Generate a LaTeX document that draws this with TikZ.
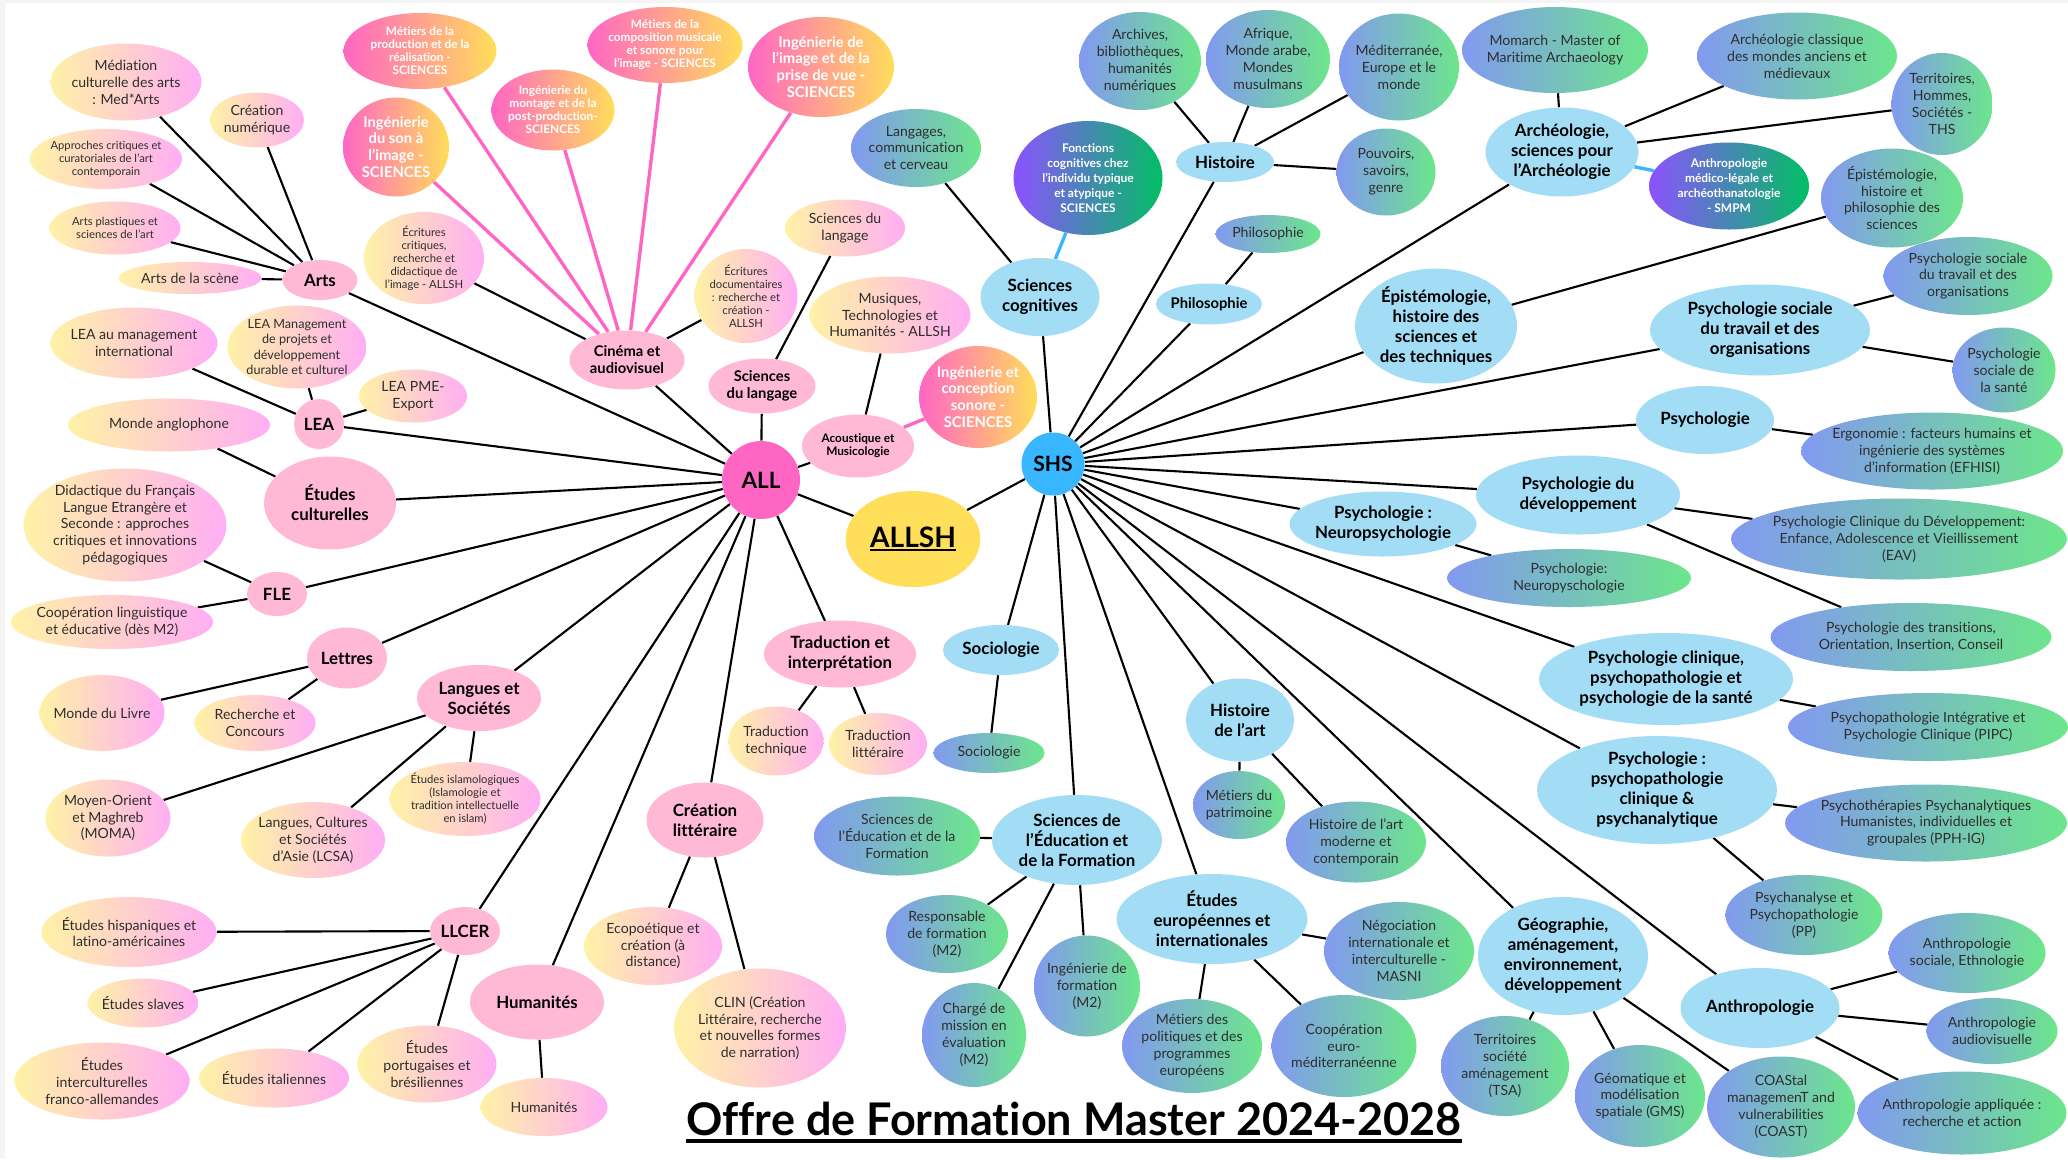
\documentclass[tikz,border=0pt]{standalone}
\usepackage{fontspec}
\setmainfont{Lato}[Ligatures=NoCommon]
\usepackage{tikz}
\usetikzlibrary{shapes.geometric}
\pgfdeclarelayer{bg}
\pgfsetlayers{bg,main}

\definecolor{ylw}{HTML}{FFF2A6}
\definecolor{pk}{HTML}{FFAEF4}
\definecolor{hotpk}{HTML}{FF66C4}
\definecolor{gold}{HTML}{FFDE59}
\definecolor{bluA}{HTML}{8299F0}
\definecolor{grnA}{HTML}{6CE68B}
\definecolor{purp}{HTML}{8C52FF}
\definecolor{grnB}{HTML}{00BF63}
\definecolor{catpk}{HTML}{FFB9D4}
\definecolor{catbl}{HTML}{A3DDF5}
\definecolor{shsbl}{HTML}{38B6FF}
\definecolor{txt}{HTML}{2E2E2E}

\newcommand{\thickul}[3]{\setbox0=\hbox{#3}\rlap{\copy0}\rule[#1]{\wd0}{#2}}

\tikzset{
  sz/.style n args={2}{minimum width=#1*0.025cm, minimum height=#2*0.025cm},
  leaf/.style={ellipse, left color=ylw, right color=pk, text=txt, align=center,
    inner xsep=-8pt, inner ysep=-4pt, font=\fontsize{10}{12}\selectfont},
  leafs/.style={leaf, left color=bluA, right color=grnA},
  sci/.style={leaf, left color=hotpk, right color=gold, text=white,
    font=\bfseries\fontsize{10.5}{12}\selectfont},
  violeaf/.style={leaf, left color=purp, right color=grnB, text=white,
    font=\bfseries\fontsize{8.5}{10.7}\selectfont},
  catA/.style={ellipse, fill=catpk, text=black, align=center,
    inner xsep=-8pt, inner ysep=-4pt, font=\bfseries\fontsize{12}{14.2}\selectfont},
  catS/.style={catA, fill=catbl},
  fA/.style={font=\fontsize{8}{9.2}\selectfont},
  fB/.style={font=\fontsize{9}{10.7}\selectfont},
  bA/.style={font=\bfseries\fontsize{8.4}{9.2}\selectfont},
  bC/.style={font=\bfseries\fontsize{10.5}{12}\selectfont},
  ln/.style={line width=1.5pt, black},
  lnp/.style={line width=2.4pt, hotpk},
  lnb/.style={line width=2.4pt, shsbl},
}

\begin{document}
\begin{tikzpicture}[x=0.025cm, y=-0.025cm]
\useasboundingbox (0,0) rectangle (2068,1159);
\begin{pgfonlayer}{bg}
\fill[gray!8] (0,0) rectangle (2068,1159);
\fill[white] (5,3) rectangle (2068,1159);
\end{pgfonlayer}

%% centres
\node[circle, fill=hotpk, sz={78}{78}, font=\bfseries\fontsize{16}{18}\selectfont] (all) at (761,480) {ALL};
\node[ellipse, fill=gold, sz={117}{96}, font=\bfseries\fontsize{20}{22}\selectfont] (allsh) at (913,539) {\thickul{-2.8pt}{1.6pt}{ALLSH}};
\node[circle, fill=shsbl, sz={63}{63}, inner sep=0pt, font=\bfseries\fontsize{15}{17}\selectfont] (shs) at (1053,464) {SHS};

%% ALL : mentions
\node[catA, sz={75}{40}] (arts) at (320,280) {Arts};
\node[catA, sz={50}{50}] (lea) at (319,424) {LEA};
\node[catA, sz={132}{93}] (etcult) at (330,503) {Études\\culturelles};
\node[catA, sz={60}{44}] (fle) at (277,594) {FLE};
\node[catA, sz={80}{61}] (lettres) at (347,658) {Lettres};
\node[catA, sz={124}{66}] (langsoc) at (479,698) {Langues et\\Sociétés};
\node[catA, sz={70}{48}] (llcer) at (465,931) {LLCER};
\node[catA, sz={134}{75}] (human) at (537,1002) {Humanités};
\node[catA, sz={117}{75}] (crealit) at (705,820) {Création\\littéraire};
\node[catA, sz={152}{67}] (trad) at (840,654) {Traduction et\\interprétation};
\node[catA, bC, sz={107}{55}] (scilang) at (762,386) {Sciences\\du langage};
\node[catA, bC, sz={115}{59}] (cinema) at (627,360) {Cinéma et\\audiovisuel};
\node[catA, bA, sz={112}{63}] (acou) at (858,446) {Acoustique et\\Musicologie};

%% ALL : parcours
\node[leaf, sz={151}{77}] (mediation) at (126,82) {Médiation\\culturelle des arts\\: Med*Arts};
\node[leaf, sz={94}{55}] (creanum) at (257,120) {Création\\numérique};
\node[leaf, fA, sz={152}{60}] (approches) at (106,159) {Approches critiques et\\curatoriales de l'art\\contemporain};
\node[leaf, fA, sz={131}{53}] (plastiques) at (115,228) {Arts plastiques et\\sciences de l'art};
\node[leaf, sz={143}{32}] (scene) at (190,278) {Arts de la scène};
\node[leaf, fA, sz={120}{92}] (ecrcrit) at (424,258) {Écritures\\critiques,\\recherche et\\didactique de\\l'image - ALLSH};
\node[leaf, sz={167}{71}] (leaint) at (134,343) {LEA au management\\international};
\node[leaf, fB, sz={139}{83}] (leaproj) at (297,347) {LEA Management\\de projets et\\développement\\durable et culturel};
\node[leaf, sz={108}{53}] (leapme) at (413,396) {LEA PME-\\Export};
\node[leaf, sz={202}{53}] (anglo) at (169,425) {Monde anglophone};
\node[leaf, sz={203}{113}] (didac) at (125,525) {Didactique du Français\\Langue Etrangère et\\Seconde : approches\\critiques et innovations\\pédagogiques};
\node[leaf, sz={202}{54}] (cooplin) at (112,622) {Coopération linguistique\\et éducative (dès M2)};
\node[leaf, sz={125}{76}] (livre) at (102,713) {Monde du Livre};
\node[leaf, sz={121}{56}] (concours) at (255,723) {Recherche et\\Concours};
\node[leaf, fA, sz={151}{74}] (islam) at (465,799) {Études islamologiques\\(Islamologie et\\tradition intellectuelle\\en islam)};
\node[leaf, sz={125}{77}] (moma) at (108,818) {Moyen-Orient\\et Maghreb\\(MOMA)};
\node[leaf, sz={144}{76}] (lcsa) at (313,840) {Langues, Cultures\\et Sociétés\\d'Asie (LCSA)};
\node[leaf, sz={175}{70}] (hisp) at (129,932) {Études hispaniques et\\latino-américaines};
\node[leaf, sz={111}{49}] (slaves) at (143,1003) {Études slaves};
\node[leaf, sz={175}{77}] (francoall) at (102,1081) {Études\\interculturelles\\franco-allemandes};
\node[leaf, sz={150}{59}] (ital) at (274,1078) {Études italiennes};
\node[leaf, sz={139}{77}] (portu) at (427,1064) {Études\\portugaises et\\brésiliennes};
\node[leaf, sz={127}{58}] (humleaf) at (544,1107) {Humanités};
\node[leaf, sz={138}{78}] (ecopo) at (653,946) {Ecopoétique et\\création (à\\distance)};
\node[leaf, sz={172}{119}] (clin) at (760,1028) {CLIN (Création\\Littéraire, recherche\\et nouvelles formes\\de narration)};
\node[leaf, sz={95}{69}] (tradtech) at (776,741) {Traduction\\technique};
\node[leaf, sz={98}{62}] (tradlit) at (878,744) {Traduction\\littéraire};
\node[leaf, sz={120}{57}] (langleaf) at (845,228) {Sciences du\\langage};
\node[leaf, fA, sz={103}{94}] (ecrdoc) at (746,296) {Écritures\\documentaires\\: recherche et\\création -\\ALLSH};
\node[leaf, sz={161}{77}] (musiq) at (890,315) {Musiques,\\Technologies et\\Humanités - ALLSH};

%% parcours SCIENCES
\node[sci, bA, sz={153}{76}] (metprod) at (420,51) {Métiers de la\\production et de la\\réalisation -\\SCIENCES};
\node[sci, sz={106}{99}] (ingson) at (396,147) {Ingénierie\\du son à\\l’image -\\SCIENCES};
\node[sci, bA, sz={123}{81}] (ingmont) at (553,110) {Ingénierie du\\montage et de la\\post-production-\\SCIENCES};
\node[sci, bA, sz={155}{76}] (metcomp) at (665,45) {Métiers de la\\composition musicale\\et sonore pour\\l’image - SCIENCES};
\node[sci, sz={146}{100}] (ingimg) at (821,67) {Ingénierie de\\l’image et de la\\prise de vue -\\SCIENCES};
\node[sci, sz={118}{102}] (ingsono) at (978,397) {Ingénierie et\\conception\\sonore -\\SCIENCES};

%% SHS : mentions
\node[catS, sz={119}{78}] (scicog) at (1040,297) {Sciences\\cognitives};
\node[catS, sz={98}{40}] (hist) at (1225,162) {Histoire};
\node[catS, bC, sz={106}{41}] (philo) at (1209,304) {Philosophie};
\node[catS, sz={153}{89}] (archeo) at (1562,152) {Archéologie,\\sciences pour\\l’Archéologie};
\node[catS, sz={162}{115}] (epist) at (1436,326) {Épistémologie,\\histoire des\\sciences et\\des techniques};
\node[catS, sz={220}{91}] (psysoc) at (1760,330) {Psychologie sociale\\du travail et des\\organisations};
\node[catS, sz={138}{68}] (psy) at (1705,420) {Psychologie};
\node[catS, sz={204}{79}] (psydev) at (1578,495) {Psychologie du\\développement};
\node[catS, sz={187}{65}] (neuro) at (1383,524) {Psychologie :\\Neuropsychologie};
\node[catS, sz={254}{92}] (psyclin) at (1666,679) {Psychologie clinique,\\psychopathologie et\\psychologie de la santé};
\node[catS, sz={240}{108}] (psypath) at (1657,790) {Psychologie :\\psychopathologie\\clinique \&\\psychanalytique};
\node[catS, sz={159}{80}] (anthro) at (1760,1008) {Anthropologie};
\node[catS, sz={170}{118}] (geo) at (1563,956) {Géographie,\\aménagement,\\environnement,\\développement};
\node[catS, sz={191}{90}] (europ) at (1212,919) {Études\\européennes et\\internationales};
\node[catS, sz={108}{83}] (histart) at (1240,720) {Histoire\\de l'art};
\node[catS, sz={170}{90}] (sciedu) at (1077,840) {Sciences de\\l’Éducation et\\de la Formation};
\node[catS, sz={116}{50}] (socio) at (1001,650) {Sociologie};

%% SHS : parcours
\node[leafs, sz={130}{78}] (langcer) at (916,148) {Langages,\\communication\\et cerveau};
\node[violeaf, sz={149}{114}] (fonct) at (1088,178) {Fonctions\\cognitives chez\\l’individu typique\\et atypique -\\SCIENCES};
\node[leafs, sz={122}{98}] (archiv) at (1140,61) {Archives,\\bibliothèques,\\humanités\\numériques};
\node[leafs, sz={124}{98}] (afriq) at (1268,59) {Afrique,\\Monde arabe,\\Mondes\\musulmans};
\node[leafs, sz={120}{107}] (medit) at (1399,67) {Méditerranée,\\Europe et le\\monde};
\node[leafs, sz={99}{87}] (pouv) at (1386,172) {Pouvoirs,\\savoirs,\\genre};
\node[leafs, sz={105}{38}] (philoleaf) at (1268,234) {Philosophie};
\node[leafs, sz={186}{86}] (momarch) at (1555,50) {Momarch - Master of\\Maritime Archaeology};
\node[leafs, sz={200}{87}] (archcl) at (1797,56) {Archéologie classique\\des mondes anciens et\\médievaux};
\node[leafs, sz={101}{102}] (ths) at (1942,104) {Territoires,\\Hommes,\\Sociétés -\\THS};
\node[violeaf, sz={160}{87}] (smpm) at (1729,186) {Anthropologie\\médico-légale et\\archéothanatologie\\- SMPM};
\node[leafs, sz={142}{99}] (epistleaf) at (1892,198) {Épistémologie,\\histoire et\\philosophie des\\sciences};
\node[leafs, sz={169}{78}] (psysocleaf) at (1968,276) {Psychologie sociale\\du travail et des\\organisations};
\node[leafs, sz={103}{85}] (sante) at (2004,370) {Psychologie\\sociale de\\la santé};
\node[leafs, sz={262}{77}] (ergo) at (1932,451) {Ergonomie : facteurs humains et\\ingénierie des systèmes\\d'information (EFHISI)};
\node[leafs, sz={336}{81}] (eav) at (1899,539) {Psychologie Clinique du Développement:\\Enfance, Adolescence et Vieillissement\\(EAV)};
\node[leafs, sz={244}{58}] (neuroleaf) at (1569,578) {Psychologie:\\Neuropyschologie};
\node[leafs, sz={281}{68}] (transit) at (1911,637) {Psychologie des transitions,\\Orientation, Insertion, Conseil};
\node[leafs, sz={280}{68}] (pipc) at (1928,727) {Psychopathologie Intégrative et\\Psychologie Clinique (PIPC)};
\node[leafs, sz={282}{77}] (pphig) at (1926,823) {Psychothérapies Psychanalytiques\\Humanistes, individuelles et\\groupales (PPH-IG)};
\node[leafs, sz={157}{80}] (pp) at (1804,915) {Psychanalyse et\\Psychopathologie\\(PP)};
\node[leafs, sz={157}{80}] (ethno) at (1967,953) {Anthropologie\\sociale, Ethnologie};
\node[leafs, sz={131}{66}] (audiovis) at (1992,1031) {Anthropologie\\audiovisuelle};
\node[leafs, sz={209}{83}] (appli) at (1962,1113) {Anthropologie appliquée :\\recherche et action};
\node[leafs, sz={130}{102}] (gms) at (1640,1096) {Géomatique et\\modélisation\\spatiale (GMS)};
\node[leafs, sz={148}{101}] (coast) at (1781,1107) {COAStal\\managemenT and\\vulnerabilities\\(COAST)};
\node[leafs, sz={128}{100}] (tsa) at (1505,1066) {Territoires\\société\\aménagement\\(TSA)};
\node[leafs, sz={150}{98}] (masni) at (1399,951) {Négociation\\internationale et\\interculturelle -\\MASNI};
\node[leafs, sz={140}{94}] (metpol) at (1192,1046) {Métiers des\\politiques et des\\programmes\\européens};
\node[leafs, sz={145}{102}] (coopeuro) at (1344,1046) {Coopération\\euro-\\méditerranéenne};
\node[leafs, sz={92}{68}] (patri) at (1239,805) {Métiers du\\patrimoine};
\node[leafs, sz={140}{81}] (histmod) at (1356,842) {Histoire de l'art\\moderne et\\contemporain};
\node[leafs, sz={166}{79}] (sciedul) at (897,836) {Sciences de\\l'Éducation et de la\\Formation};
\node[leafs, sz={122}{78}] (resp) at (947,934) {Responsable\\de formation\\(M2)};
\node[leafs, sz={104}{104}] (charge) at (974,1035) {Chargé de\\mission en\\évaluation\\(M2)};
\node[leafs, sz={106}{101}] (ingform) at (1087,986) {Ingénierie de\\formation\\(M2)};
\node[leafs, sz={111}{40}] (socioleaf) at (989,753) {Sociologie};

%% titre
\node[anchor=base, font=\bfseries\fontsize{32}{36}\selectfont] (titre) at (1074,1135) {\thickul{-6pt}{3pt}{Offre de Formation Master 2024-2028}};

%% liens
\begin{pgfonlayer}{bg}
\draw[ln] (all) -- (arts) (all) -- (lea) (all) -- (etcult) (all) -- (fle) (all) -- (lettres)
  (all) -- (langsoc) (all) -- (llcer) (all) -- (human) (all) -- (crealit) (all) -- (trad)
  (all) -- (scilang) (all) -- (cinema) (all) -- (acou) (all) -- (allsh) (allsh) -- (shs);
\draw[ln] (arts) -- (mediation) (arts) -- (creanum) (arts) -- (approches) (arts) -- (plastiques) (arts) -- (scene);
\draw[ln] (cinema) -- (ecrcrit) (cinema) -- (ecrdoc);
\draw[lnp] (cinema) -- (metprod) (cinema) -- (ingson) (cinema) -- (ingmont) (cinema) -- (metcomp) (cinema) -- (ingimg);
\draw[ln] (scilang) -- (langleaf) (acou) -- (musiq);
\draw[lnp] (acou) -- (ingsono);
\draw[ln] (lea) -- (leaint) (lea) -- (leaproj) (lea) -- (leapme) (etcult) -- (anglo);
\draw[ln] (fle) -- (didac) (fle) -- (cooplin) (lettres) -- (livre) (lettres) -- (concours);
\draw[ln] (langsoc) -- (moma) (langsoc) -- (lcsa) (langsoc) -- (islam);
\draw[ln] (llcer) -- (hisp) (llcer) -- (slaves) (llcer) -- (francoall) (llcer) -- (ital) (llcer) -- (portu);
\draw[ln] (human) -- (humleaf) (crealit) -- (ecopo) (crealit) -- (clin) (trad) -- (tradtech) (trad) -- (tradlit);
%% SHS
\draw[ln] (shs) -- (scicog) (shs) -- (hist) (shs) -- (philo) (shs) -- (archeo) (shs) -- (epist)
  (shs) -- (psysoc) (shs) -- (psy) (shs) -- (psydev) (shs) -- (neuro) (shs) -- (psyclin)
  (shs) -- (psypath) (shs) -- (anthro) (shs) -- (geo) (shs) -- (europ) (shs) -- (histart)
  (shs) -- (sciedu) (shs) -- (socio);
\draw[ln] (scicog) -- (langcer);
\draw[lnb] (scicog) -- (fonct);
\draw[ln] (hist) -- (archiv) (hist) -- (afriq) (hist) -- (medit) (hist) -- (pouv) (philo) -- (philoleaf);
\draw[ln] (archeo) -- (momarch) (archeo) -- (archcl) (archeo) -- (ths);
\draw[lnb] (archeo) -- (smpm);
\draw[ln] (epist) -- (epistleaf) (psysoc) -- (psysocleaf) (psysoc) -- (sante) (psy) -- (ergo);
\draw[ln] (psydev) -- (eav) (psydev) -- (transit) (neuro) -- (neuroleaf) (psyclin) -- (pipc);
\draw[ln] (psypath) -- (pphig) (psypath) -- (pp);
\draw[ln] (anthro) -- (ethno) (anthro) -- (audiovis) (anthro) -- (appli);
\draw[ln] (geo) -- (tsa) (geo) -- (gms) (geo) -- (coast);
\draw[ln] (europ) -- (masni) (europ) -- (metpol) (europ) -- (coopeuro);
\draw[ln] (histart) -- (patri) (histart) -- (histmod);
\draw[ln] (sciedu) -- (sciedul) (sciedu) -- (resp) (sciedu) -- (charge) (sciedu) -- (ingform);
\draw[ln] (socio) -- (socioleaf);
\end{pgfonlayer}
\end{tikzpicture}
\end{document}
